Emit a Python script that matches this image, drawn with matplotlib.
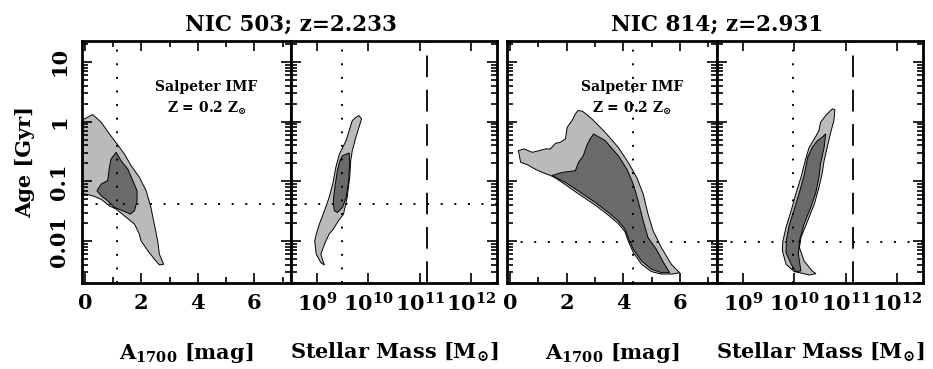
import numpy as np
import matplotlib
matplotlib.use("Agg")
import matplotlib.pyplot as plt
from matplotlib.ticker import MultipleLocator, LogLocator, NullFormatter

# ---- data (log10 values for age and mass) ----
titles = ["NIC 503; z=2.233", "NIC 814; z=2.931"]
age_ticks = [0.01, 0.1, 1, 10]
age_tick_labels = ["0.01", "0.1", "1", "10"]
a_ticks = [0, 2, 4, 6]
mass_ticks = [1e9, 1e10, 1e11, 1e12]
mass_tick_labels = [r"$10^{9}$", r"$10^{10}$", r"$10^{11}$", r"$10^{12}$"]

# NIC 503, A1700 vs age
n503_a_outer_x = [-0.3, 0.0, 0.28, 0.58, 0.87, 1.14, 1.40, 1.64, 1.93, 2.17, 2.34, 2.46, 2.58, 2.64, 2.79,
                  2.64, 2.46, 2.23, 1.99, 1.93, 1.76, 1.40, 1.11, 0.87, 0.58, 0.28, -0.01, -0.3]
n503_a_outer_y = [0.0, 0.05, 0.12, -0.01, -0.205, -0.373, -0.54, -0.737, -0.93, -1.156, -1.436, -1.715, -1.995, -2.218, -2.386,
                  -2.398, -2.30, -2.16, -1.995, -1.88, -1.715, -1.576, -1.463, -1.41, -1.30, -1.24, -1.21, -1.21]
n503_a_inner_x = [1.11, 1.28, 1.52, 1.70, 1.85, 1.85, 1.76, 1.61, 1.34, 1.05, 0.81, 0.58, 0.43, 0.58, 0.81, 0.87, 0.93]
n503_a_inner_y = [-0.513, -0.653, -0.792, -0.988, -1.156, -1.324, -1.49, -1.547, -1.49, -1.436, -1.324, -1.24, -1.156,
                  -1.044, -0.988, -0.765, -0.624]

# NIC 503, stellar mass vs age
n503_m_outer_x = [9.82, 9.87, 9.82, 9.76, 9.69, 9.66, 9.64, 9.59, 9.52, 9.42, 9.32, 9.24, 9.15, 9.08, 9.12, 9.15,
                  9.08, 8.99, 8.96, 8.99, 9.05, 9.15, 9.24, 9.31, 9.37, 9.44, 9.57, 9.63, 9.69, 9.76]
n503_m_outer_y = [0.102, 0.047, -0.094, -0.262, -0.485, -0.653, -0.933, -1.268, -1.547, -1.66, -1.80, -1.883, -2.05, -2.218, -2.33, -2.40,
                  -2.36, -2.218, -1.995, -1.883, -1.715, -1.49, -1.268, -1.044, -0.765, -0.54, -0.317, -0.149, 0.018, 0.074]
n503_m_inner_x = [9.50, 9.63, 9.64, 9.62, 9.57, 9.50, 9.40, 9.34, 9.32, 9.36, 9.40, 9.45]
n503_m_inner_y = [-0.569, -0.524, -0.708, -0.988, -1.268, -1.436, -1.52, -1.49, -1.324, -1.044, -0.82, -0.653]

# NIC 814, A1700 vs age
n814_a_outer_x = [2.40, 2.56, 2.89, 3.36, 3.82, 4.17, 4.47, 4.70, 4.87, 5.05, 5.34, 5.69, 5.98,
                  5.74, 5.34, 4.99, 4.64, 4.35, 4.17, 4.06, 3.82, 3.47, 3.01, 2.66, 2.31, 1.96, 1.61, 1.43,
                  1.20, 0.91, 0.62, 0.38, 0.30, 0.50, 0.79, 1.03, 1.26, 1.43, 1.61, 1.78, 1.96, 2.02, 2.19, 2.31]
n814_a_outer_y = [0.186, 0.175, 0.047, -0.178, -0.43, -0.68, -0.933, -1.21, -1.547, -1.827, -2.107, -2.386, -2.527,
                  -2.55, -2.55, -2.51, -2.386, -2.19, -1.995, -1.844, -1.705, -1.564, -1.396, -1.285, -1.173, -1.055, -0.943, -0.90,
                  -0.86, -0.80, -0.72, -0.68, -0.485, -0.456, -0.513, -0.485, -0.456, -0.456, -0.362, -0.345, -0.289, -0.094, 0.018, 0.131]
n814_a_inner_x = [2.95, 3.36, 3.82, 4.12, 4.35, 4.52, 4.70, 4.87, 5.16, 5.45, 5.63, 5.34, 4.99, 4.64, 4.35, 4.17,
                  4.06, 3.82, 3.47, 3.01, 2.66, 2.31, 1.96, 1.61, 1.49, 1.84, 2.31, 2.42, 2.59, 2.71, 2.83]
n814_a_inner_y = [-0.205, -0.317, -0.569, -0.792, -1.044, -1.324, -1.66, -1.94, -2.134, -2.386, -2.527, -2.527, -2.47, -2.33, -2.134, -1.94,
                  -1.80, -1.66, -1.52, -1.352, -1.24, -1.128, -1.017, -0.933, -0.90, -0.85, -0.82, -0.68, -0.569, -0.40, -0.289]

# NIC 814, stellar mass vs age
n814_m_outer_x = [10.74, 10.79, 10.77, 10.70, 10.64, 10.58, 10.54, 10.48, 10.39, 10.26, 10.13, 10.10, 10.19, 10.35, 10.42,
                  10.29, 10.10, 10.00, 9.84, 9.77, 9.78, 9.84, 9.94, 10.03, 10.13, 10.23, 10.29, 10.39, 10.48, 10.51, 10.61]
n814_m_outer_y = [0.215, 0.198, 0.018, -0.205, -0.43, -0.653, -0.876, -1.10, -1.38, -1.66, -1.94, -2.107, -2.33, -2.50, -2.544,
                  -2.566, -2.527, -2.51, -2.386, -2.16, -1.995, -1.77, -1.49, -1.21, -0.933, -0.597, -0.43, -0.289, -0.149, -0.01, 0.102]
n814_m_inner_x = [10.61, 10.58, 10.51, 10.48, 10.42, 10.32, 10.19, 10.10, 10.08, 10.13, 10.03, 9.94, 9.84, 9.85, 9.90,
                  10.00, 10.10, 10.19, 10.26, 10.35, 10.45, 10.54]
n814_m_inner_y = [-0.205, -0.43, -0.708, -0.933, -1.184, -1.436, -1.715, -1.995, -2.218, -2.498, -2.51, -2.386, -2.19, -1.967, -1.743,
                  -1.463, -1.184, -0.904, -0.597, -0.43, -0.317, -0.262]

# best-fit / reference lines
n503_best_a = 1.14
n503_best_logm = 9.49
n503_best_age = 0.042
n814_best_a = 4.33
n814_best_logm = 9.97
n814_best_age = 0.0098
mass_limit = 1.38e11

LIGHT = "#bababa"
DARK = "#6a6a6a"
DOTS = (0, (1, 6))
DASH = (0, (12, 7))

plt.rcParams["font.family"] = "DejaVu Serif"
plt.rcParams["font.weight"] = "bold"
plt.rcParams["axes.labelweight"] = "bold"
plt.rcParams["mathtext.fontset"] = "dejavuserif"
plt.rcParams["mathtext.default"] = "bf"


def style_axis(ax):
    for s in ax.spines.values():
        s.set_linewidth(2.0)
    ax.tick_params(which="both", direction="in", top=True, right=True, width=1.2, labelsize=15)
    ax.tick_params(which="major", length=7.5)
    ax.tick_params(which="minor", length=4.5)
    ax.set_yscale("log")
    ax.set_ylim(10 ** -2.7, 10 ** 1.35)
    ax.set_yticks(age_ticks)
    ax.yaxis.set_minor_locator(LogLocator(subs=np.arange(2, 10)))
    ax.yaxis.set_minor_formatter(NullFormatter())
    ax.set_yticklabels([])


def contours(ax, ox, oy, ix, iy, logx=False):
    ox, ix = np.array(ox), np.array(ix)
    if logx:
        ox, ix = 10 ** ox, 10 ** ix
    ax.fill(ox, 10 ** np.array(oy), facecolor=LIGHT, edgecolor="k", lw=0.7, zorder=1)
    ax.fill(ix, 10 ** np.array(iy), facecolor=DARK, edgecolor="k", lw=0.7, zorder=2)


def a_panel(ax, ox, oy, ix, iy, best_a, best_age):
    style_axis(ax)
    contours(ax, ox, oy, ix, iy)
    ax.set_xlim(-0.1, 7.3)
    ax.set_xticks(a_ticks)
    ax.xaxis.set_minor_locator(MultipleLocator(1))
    ax.tick_params(axis="x", pad=7)
    ax.axvline(best_a, color="k", lw=1.4, ls=DOTS, zorder=3)
    ax.axhline(best_age, color="k", lw=1.4, ls=DOTS, zorder=3)
    ax.text(0.595, 0.81, "Salpeter IMF", transform=ax.transAxes, ha="center", va="center", fontsize=10)
    ax.text(0.595, 0.723, r"Z = 0.2 Z$_{\odot}$", transform=ax.transAxes, ha="center", va="center", fontsize=10)
    ax.set_xlabel(r"A$_{1700}$ [mag]", fontsize=15)
    ax.xaxis.set_label_coords(0.5, -0.24)


def m_panel(ax, ox, oy, ix, iy, best_logm, best_age):
    style_axis(ax)
    contours(ax, ox, oy, ix, iy, logx=True)
    ax.set_xscale("log")
    ax.set_xlim(10 ** 8.5, 10 ** 12.5)
    ax.set_xticks(mass_ticks, labels=mass_tick_labels)
    ax.xaxis.set_minor_locator(LogLocator(subs=np.arange(2, 10)))
    ax.xaxis.set_minor_formatter(NullFormatter())
    ax.tick_params(axis="x", pad=7)
    ax.axvline(10 ** best_logm, color="k", lw=1.4, ls=DOTS, zorder=3)
    ax.axhline(best_age, color="k", lw=1.4, ls=DOTS, zorder=3)
    ax.axvline(mass_limit, color="k", lw=1.3, ls=DASH, zorder=3)
    ax.set_xlabel(r"Stellar Mass [M$_{\odot}$]", fontsize=15)
    ax.xaxis.set_label_coords(0.5, -0.24)


def main():
    W, H = 933, 369
    fig = plt.figure(figsize=(W / 100, H / 100), dpi=100)
    bottom, height = 1 - 283 / H, 242 / H
    ax1 = fig.add_axes([82 / W, bottom, 209 / W, height])
    ax2 = fig.add_axes([291 / W, bottom, 206 / W, height])
    ax3 = fig.add_axes([507 / W, bottom, 210 / W, height])
    ax4 = fig.add_axes([717 / W, bottom, 206 / W, height])

    a_panel(ax1, n503_a_outer_x, n503_a_outer_y, n503_a_inner_x, n503_a_inner_y, n503_best_a, n503_best_age)
    m_panel(ax2, n503_m_outer_x, n503_m_outer_y, n503_m_inner_x, n503_m_inner_y, n503_best_logm, n503_best_age)
    a_panel(ax3, n814_a_outer_x, n814_a_outer_y, n814_a_inner_x, n814_a_inner_y, n814_best_a, n814_best_age)
    m_panel(ax4, n814_m_outer_x, n814_m_outer_y, n814_m_inner_x, n814_m_inner_y, n814_best_logm, n814_best_age)

    ax1.set_yticklabels(age_tick_labels)
    ax1.tick_params(axis="y", labelrotation=90, pad=9)
    for lab in ax1.get_yticklabels():
        lab.set_verticalalignment("center")
    ax1.set_ylabel("Age [Gyr]", fontsize=15)
    ax1.yaxis.set_label_coords(-0.225, 0.5)

    fig.text(291 / W, 1 - 31 / H, titles[0], ha="center", va="baseline", fontsize=15.5)
    fig.text(717 / W, 1 - 31 / H, titles[1], ha="center", va="baseline", fontsize=15.5)

    fig.savefig("out.png", dpi=100)
    plt.close(fig)


if __name__ == "__main__":
    main()
